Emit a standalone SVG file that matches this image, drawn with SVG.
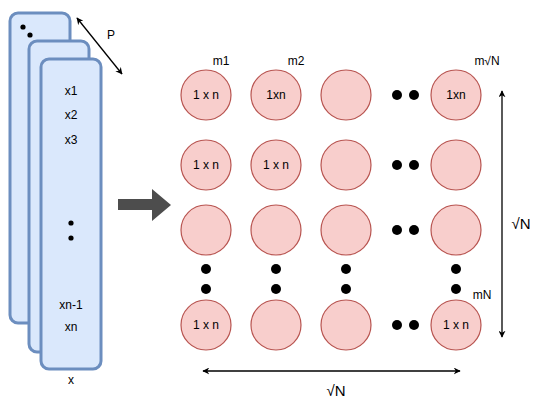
<svg xmlns="http://www.w3.org/2000/svg" width="554" height="414" viewBox="0 0 554 414">
<defs>
<style>
text{font-family:"Liberation Sans",Arial,sans-serif;font-size:12px;fill:#000;text-anchor:middle;dominant-baseline:central}
.card{fill:#dae8fc;stroke:#6c8ebf;stroke-width:3}
.c{fill:#f8cecc;stroke:#b85450;stroke-width:1.2}
.dot{fill:#000}
.ln{stroke:#000;stroke-width:1.3;fill:none}
.big{font-size:15px}
</style>
<marker id="ah" viewBox="0 0 10 10" refX="9" refY="5" markerWidth="7" markerHeight="7" orient="auto-start-reverse" markerUnits="userSpaceOnUse">
<path d="M0,0 L10,5 L0,10 L3,5 Z" fill="#000"/>
</marker>
</defs>
<rect width="554" height="414" fill="#fff"/>
<g id="card1"><rect class="card" x="10" y="13" width="60" height="310" rx="8"/><circle class="dot" cx="23" cy="27" r="2.6"/><circle class="dot" cx="30" cy="35" r="2.6"/></g>
<g id="card2"><rect class="card" x="29" y="41" width="60" height="311" rx="8"/></g>
<g id="card3"><rect class="card" x="41" y="59" width="60" height="310" rx="8"/>
<text x="71" y="91">x1</text><text x="71" y="115">x2</text><text x="71" y="140">x3</text>
<circle class="dot" cx="71" cy="223" r="2.6"/><circle class="dot" cx="71" cy="238" r="2.6"/>
<text x="71" y="305">xn-1</text><text x="71" y="327">xn</text></g>
<g id="labelX"><text x="71" y="380">x</text></g>
<g id="bigArrow"><path d="M118,199 H152 V189 L171,205 L152,221 V210 H118 Z" fill="#4d4d4d"/></g>
<g id="grid">
<g id="r1c1"><circle class="c" cx="206" cy="95" r="25"/><text x="206" y="95">1 x n</text></g>
<g id="r1c2"><circle class="c" cx="276" cy="95" r="25"/><text x="276" y="95">1xn</text></g>
<g id="r1c3"><circle class="c" cx="346" cy="95" r="25"/></g>
<g id="r1c4"><circle class="c" cx="456" cy="95" r="25"/><text x="456" y="95">1xn</text></g>
<g id="r2c1"><circle class="c" cx="206" cy="165" r="25"/><text x="206" y="165">1 x n</text></g>
<g id="r2c2"><circle class="c" cx="276" cy="165" r="25"/><text x="276" y="165">1 x n</text></g>
<g id="r2c3"><circle class="c" cx="346" cy="165" r="25"/></g>
<g id="r2c4"><circle class="c" cx="456" cy="165" r="25"/></g>
<g id="r3c1"><circle class="c" cx="206" cy="230" r="25"/></g>
<g id="r3c2"><circle class="c" cx="276" cy="230" r="25"/></g>
<g id="r3c3"><circle class="c" cx="346" cy="230" r="25"/></g>
<g id="r3c4"><circle class="c" cx="456" cy="230" r="25"/></g>
<g id="r4c1"><circle class="c" cx="206" cy="325" r="25"/><text x="206" y="325">1 x n</text></g>
<g id="r4c2"><circle class="c" cx="276" cy="325" r="25"/></g>
<g id="r4c3"><circle class="c" cx="346" cy="325" r="25"/></g>
<g id="r4c4"><circle class="c" cx="456" cy="325" r="25"/><text x="456" y="325">1 x n</text></g>
</g>
<g id="dots">
<circle class="dot" cx="397" cy="95" r="5"/><circle class="dot" cx="414" cy="95" r="5"/>
<circle class="dot" cx="397" cy="165" r="5"/><circle class="dot" cx="414" cy="165" r="5"/>
<circle class="dot" cx="397" cy="230" r="5"/><circle class="dot" cx="414" cy="230" r="5"/>
<circle class="dot" cx="397" cy="325" r="5"/><circle class="dot" cx="414" cy="325" r="5"/>
<circle class="dot" cx="206" cy="269" r="5"/><circle class="dot" cx="206" cy="289" r="5"/>
<circle class="dot" cx="276" cy="269" r="5"/><circle class="dot" cx="276" cy="289" r="5"/>
<circle class="dot" cx="346" cy="269" r="5"/><circle class="dot" cx="346" cy="289" r="5"/>
<circle class="dot" cx="456" cy="269" r="5"/><circle class="dot" cx="456" cy="289" r="5"/>
</g>
<g id="labels">
<text x="221" y="61">m1</text><text x="296" y="61">m2</text><text x="487" y="61">m√N</text><text x="482" y="295">mN</text>
<text x="111" y="35">P</text>
<text class="big" x="521" y="223">√N</text>
<text class="big" x="336" y="390">√N</text>
</g>
<g id="connectors">
<line class="ln" x1="77" y1="18" x2="122" y2="74" marker-start="url(#ah)" marker-end="url(#ah)"/>
<line class="ln" x1="502" y1="91" x2="502" y2="337" marker-start="url(#ah)" marker-end="url(#ah)"/>
<line class="ln" x1="203" y1="371" x2="460" y2="371" marker-start="url(#ah)" marker-end="url(#ah)"/>
</g>
</svg>
